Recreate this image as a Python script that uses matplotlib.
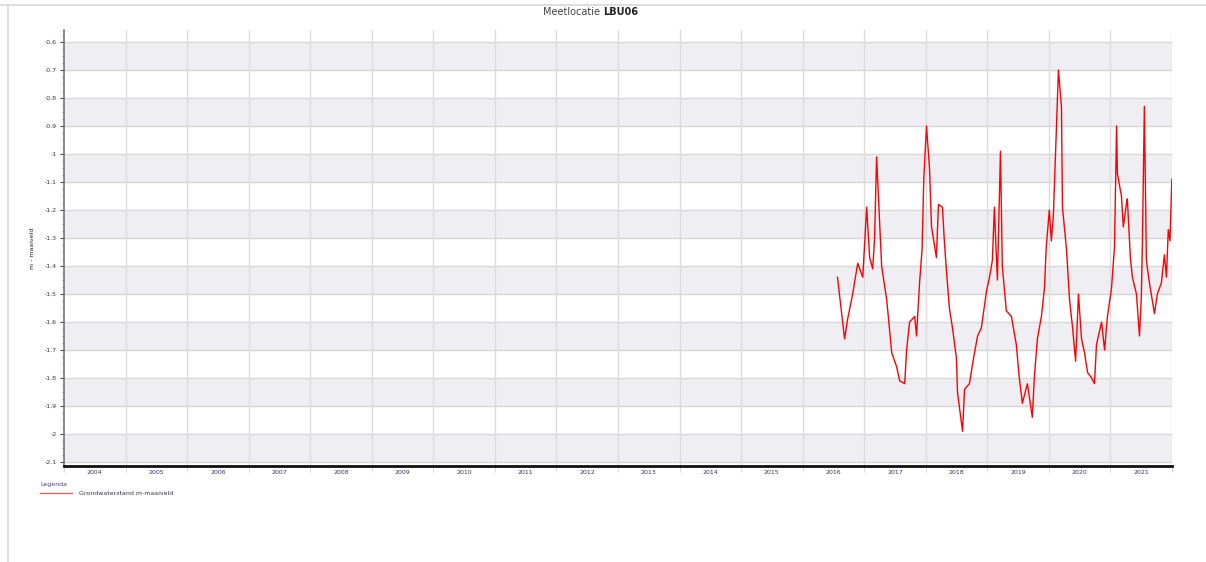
import matplotlib
matplotlib.use("Agg")
import matplotlib.pyplot as plt
from matplotlib.lines import Line2D
import pandas as pd

# Groundwater level readings (date, level in m)
dates = [
    "2016-07-26", "2016-09-06", "2016-09-24", "2016-10-24", "2016-11-23", "2016-12-23",
    "2017-01-15", "2017-02-02", "2017-02-20", "2017-03-03", "2017-03-15", "2017-04-14",
    "2017-05-14", "2017-06-13", "2017-07-12", "2017-07-30", "2017-08-29", "2017-09-09",
    "2017-09-27", "2017-10-27", "2017-11-07", "2017-11-25", "2017-12-10", "2017-12-20",
    "2018-01-05", "2018-01-23", "2018-02-04", "2018-03-05", "2018-03-17", "2018-04-10",
    "2018-04-21", "2018-05-04", "2018-05-21", "2018-06-08", "2018-07-02", "2018-07-08",
    "2018-08-07", "2018-08-19", "2018-09-17", "2018-10-11", "2018-11-04", "2018-11-27",
    "2018-12-27", "2019-01-14", "2019-01-31", "2019-02-12", "2019-02-24", "2019-03-02",
    "2019-03-20", "2019-03-31", "2019-04-24", "2019-05-24", "2019-06-22", "2019-07-10",
    "2019-07-28", "2019-08-27", "2019-09-25", "2019-10-07", "2019-10-25", "2019-11-18",
    "2019-12-06", "2019-12-17", "2020-01-04", "2020-01-16", "2020-01-28", "2020-02-15",
    "2020-02-27", "2020-03-16", "2020-03-22", "2020-04-15", "2020-05-03", "2020-05-21",
    "2020-06-08", "2020-06-25", "2020-07-13", "2020-07-31", "2020-08-18", "2020-09-11",
    "2020-09-28", "2020-10-10", "2020-11-09", "2020-11-27", "2020-12-14", "2021-01-07",
    "2021-01-25", "2021-02-06", "2021-02-11", "2021-03-07", "2021-03-18", "2021-04-05",
    "2021-04-11", "2021-04-29", "2021-05-11", "2021-06-04", "2021-06-22", "2021-07-03",
    "2021-07-09", "2021-07-21", "2021-08-02", "2021-08-20", "2021-09-19", "2021-10-06",
    "2021-10-30", "2021-11-17", "2021-11-29", "2021-12-10", "2021-12-20", "2021-12-31",
]
levels = [
    -1.44, -1.66, -1.59, -1.50, -1.39, -1.44,
    -1.19, -1.37, -1.41, -1.30, -1.01, -1.40,
    -1.52, -1.71, -1.76, -1.81, -1.82, -1.70,
    -1.60, -1.58, -1.65, -1.46, -1.34, -1.09,
    -0.90, -1.05, -1.26, -1.37, -1.18, -1.19,
    -1.31, -1.42, -1.55, -1.62, -1.73, -1.85,
    -1.99, -1.84, -1.82, -1.73, -1.65, -1.62,
    -1.49, -1.44, -1.38, -1.19, -1.37, -1.45,
    -0.99, -1.40, -1.56, -1.58, -1.68, -1.80,
    -1.89, -1.82, -1.94, -1.80, -1.66, -1.58,
    -1.48, -1.33, -1.20, -1.31, -1.22, -0.91,
    -0.70, -0.83, -1.19, -1.34, -1.52, -1.62,
    -1.74, -1.50, -1.66, -1.71, -1.78, -1.80,
    -1.82, -1.68, -1.60, -1.70, -1.58, -1.48,
    -1.33, -0.90, -1.07, -1.15, -1.26, -1.18,
    -1.16, -1.37, -1.44, -1.50, -1.65, -1.51,
    -1.33, -0.83, -1.38, -1.46, -1.57, -1.50,
    -1.46, -1.36, -1.44, -1.27, -1.31, -1.09,
]
years = list(range(2004, 2022))
y_ticks = [-0.6, -0.7, -0.8, -0.9, -1.0, -1.1, -1.2, -1.3, -1.4, -1.5,
           -1.6, -1.7, -1.8, -1.9, -2.0, -2.1]

title_plain = "Meetlocatie "
title_bold = "LBU06"
y_label = "m - maaiveld"
series_label = "Grondwaterstand m-maaiveld"
legend_title = "Legenda"

W, H = 1206, 562
fig = plt.figure(figsize=(W / 100, H / 100), dpi=100)
fig.patch.set_facecolor("white")

ax = fig.add_axes([64 / W, 1 - 466 / H, (1172 - 64) / W, (466 - 30) / H])
ax.set_facecolor("white")

# alternating horizontal bands
for top in y_ticks[::2]:
    ax.axhspan(top - 0.1, top, color="#efeff3", lw=0, zorder=0)
for v in y_ticks:
    ax.axhline(v, color="#d6d6d8", lw=1.0, zorder=1)

# year boundaries
for yr in years[1:]:
    ax.axvline(pd.Timestamp(f"{yr}-01-01"), color="#dcdcdc", lw=1.0, zorder=1)

t = pd.to_datetime(dates)
ax.plot(t, levels, color="#ff0000", lw=1.0, zorder=3, label=series_label)

ax.set_xlim(pd.Timestamp("2004-01-01"), pd.Timestamp("2022-01-01"))
ax.set_ylim(-2.114, -0.557)

# y axis
ax.set_yticks(y_ticks)
ax.set_yticklabels([f"{v:g}" for v in y_ticks])
ax.yaxis.set_minor_locator(matplotlib.ticker.MultipleLocator(0.025))
ax.tick_params(axis="y", which="major", length=3, width=0.8, color="#444444",
               labelsize=4.5, labelcolor="#333355", pad=2)
ax.tick_params(axis="y", which="minor", length=1.8, width=0.6, color="#888888")
ax.set_ylabel(y_label, fontsize=4.5, color="#222222", labelpad=7)

# x axis: year labels centred within each year
ax.set_xticks([pd.Timestamp(f"{yr}-01-01") for yr in years] + [pd.Timestamp("2022-01-01")])
ax.set_xticklabels([])
ax.set_xticks([pd.Timestamp(f"{yr}-07-02") for yr in years], minor=True)
ax.set_xticklabels([str(yr) for yr in years], minor=True)
ax.tick_params(axis="x", which="major", length=4, width=0.8, color="#dcdcdc")
ax.tick_params(axis="x", which="minor", length=0, labelsize=4.5,
               labelcolor="#333366", pad=3)

for side in ("top", "right"):
    ax.spines[side].set_visible(False)
ax.spines["left"].set_color("#777777")
ax.spines["left"].set_linewidth(1.2)
ax.spines["bottom"].set_color("#111111")
ax.spines["bottom"].set_linewidth(2.0)
# light right edge
ax.axvline(pd.Timestamp("2022-01-01"), color="#e4e4e4", lw=1.0, zorder=1)

# title: plain + bold part
fig.text(0.5, 1 - 12 / H, title_plain, ha="right", va="center",
         fontsize=7, color="#444444")
fig.text(0.5, 1 - 12 / H, title_bold, ha="left", va="center",
         fontsize=7, color="#222222", fontweight="bold")

# legend below the chart
leg = fig.legend(handles=[Line2D([], [], color="#ff5555", lw=0.9)],
                 labels=[series_label], loc="upper left",
                 bbox_to_anchor=(36 / W, 1 - 478 / H), frameon=False,
                 title=legend_title, fontsize=4.5, title_fontsize=4.5,
                 handlelength=5, handletextpad=1.2, borderpad=0.2)
leg._legend_box.align = "left"
leg.get_title().set_color("#444488")
for txt in leg.get_texts():
    txt.set_color("#333344")

# panel frame
fig.add_artist(Line2D([0, 1], [1 - 5 / H, 1 - 5 / H], transform=fig.transFigure,
                      color="#d8d8d8", lw=1.2))
fig.add_artist(Line2D([8 / W, 8 / W], [0, 1 - 5 / H], transform=fig.transFigure,
                      color="#d8d8d8", lw=1.2))

fig.savefig("out.png", dpi=100, facecolor="white")
